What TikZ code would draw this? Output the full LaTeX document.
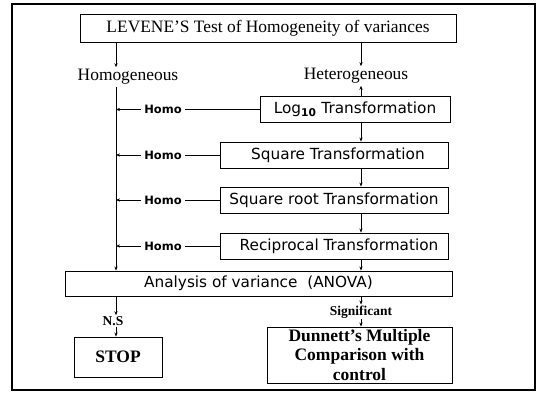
\documentclass[tikz,border=0pt]{standalone}
\usepackage{fontspec}
\setmainfont{Liberation Serif}
\newfontfamily\sansf{DejaVu Sans}
\usetikzlibrary{arrows.meta}
\begin{document}
\begin{tikzpicture}[x=1pt,y=-1pt,
  arr/.style={-{Stealth[length=4pt,width=3.2pt]}, line width=0.7pt},
  boxs/.style={draw, line width=0.9pt, inner sep=0pt, align=center},
  serifbig/.style={font=\fontsize{17.4}{19}\selectfont},
  sansbox/.style={boxs, minimum height=26pt, font=\sansf\fontsize{15.3}{17}\selectfont},
  homolbl/.style={fill=white, inner sep=3pt, font=\sansf\bfseries\fontsize{11.5}{13}\selectfont},
  smallbold/.style={inner sep=1pt, font=\bfseries\fontsize{13.5}{14}\selectfont},
  boldbig/.style={font=\bfseries\fontsize{17.5}{19.5}\selectfont}]
\useasboundingbox (0,0) rectangle (545,398);
% outer frame
\draw[line width=1.8pt] (12,4) rectangle (535,390);

% guide columns for the two branches and the "Homo" labels
\coordinate (hx) at (116,0);
\coordinate (rx) at (361,0);
\coordinate (lx) at (163,0);

\node[boxs, serifbig, minimum width=376pt, minimum height=28pt] (levene) at (268,28)
  {LEVENE'S Test of Homogeneity of variances};
\node[serifbig, inner sep=2pt] (homog) at (128,77) {Homogeneous};
\node[serifbig, inner sep=2pt] (hetero) at (356,76) {Heterogeneous};

\node[sansbox, minimum width=190pt] (log) at (355,109.5)
  {Log\textsubscript{\bfseries 10} Transformation};
\node[sansbox, minimum width=228pt] (sq) at (334,155) {\hspace*{8pt}Square Transformation};
\node[sansbox, minimum width=228pt] (sqrt) at (334,200) {Square root Transformation};
\node[sansbox, minimum width=228pt] (recip) at (334,246) {\hspace*{10pt}Reciprocal Transformation};

\node[boxs, minimum width=387pt, minimum height=25pt, font=\sansf\fontsize{15.3}{17}\selectfont]
  (anova) at (258.5,283.5) {Analysis of variance\ \ (ANOVA)};

\node[smallbold] (ns) at (113,321) {N.S};
\node[boxs, boldbig, minimum width=88pt, minimum height=40pt] (stop) at (118,357) {STOP};
\node[smallbold] (sig) at (361,312) {Significant};
\node[boxs, boldbig, minimum width=185pt, minimum height=56pt] (dunnett) at (359.5,355)
  {Dunnett's Multiple\\Comparison with\\control};

% top split
\draw[arr] (levene.south -| hx) -- (homog.north -| hx);
\draw[arr] (levene.south -| rx) -- (hetero.north -| rx);
\draw[arr] (log.north -| rx) -- (hetero.south -| rx);

% transformation chain
\draw[arr] (log.south -| rx) -- (sq.north -| rx);
\draw[arr] (sq.south -| rx) -- (sqrt.north -| rx);
\draw[arr] (sqrt.south -| rx) -- (recip.north -| rx);
\draw[arr] (recip.south -| rx) -- (anova.north -| rx);

% homogeneous branch
\draw[arr] (homog.south -| hx) -- (anova.north -| hx);
\foreach \b in {log,sq,sqrt,recip}{
  \draw[arr] (\b.west) -- (\b.west -| hx);
  \node[homolbl] at (\b.west -| lx) {Homo};
}

% outcome of the ANOVA
\draw[arr] (anova.south -| hx) -- (ns.north -| hx);
\draw[arr] (ns.south -| hx) -- (stop.north -| hx);
\draw[arr] (anova.south -| rx) -- (sig.north -| rx);
\draw[arr] (sig.south -| rx) -- (dunnett.north -| rx);
\end{tikzpicture}
\end{document}
